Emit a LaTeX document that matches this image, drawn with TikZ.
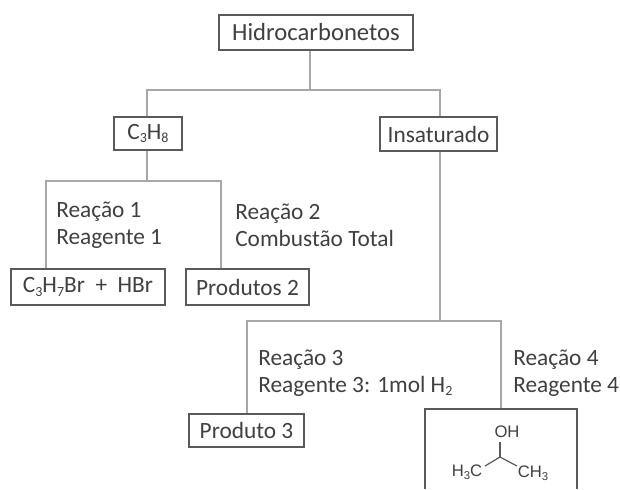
\documentclass[tikz,border=0pt]{standalone}
\usepackage{fontspec}
\setmainfont{Carlito}
\newfontfamily\chemfont{Liberation Sans}
\definecolor{boxc}{HTML}{5A5A5A}
\definecolor{linec}{HTML}{A8A8A8}
\definecolor{textc}{HTML}{404040}
\newcommand{\sbs}[1]{\raisebox{-0.3ex}{\fontsize{10.5}{12}\selectfont #1}}
\tikzset{
  boxn/.style={draw=boxc,line width=1.3pt,fill=white,text=textc,font=\fontsize{17.5}{20}\selectfont,inner sep=0pt,anchor=center},
  lab/.style={text=textc,font=\fontsize{17.5}{20.5}\selectfont,align=left,anchor=west,inner sep=0pt},
  conn/.style={draw=linec,line width=1.1pt},
  chem/.style={text=textc,font=\chemfont\fontsize{12.5}{14}\selectfont,inner sep=0pt},
  bond/.style={draw=boxc,line width=0.9pt}
}
\begin{document}
\begin{tikzpicture}[x=0.75pt,y=-0.75pt]
\useasboundingbox (0,0) rectangle (620,489);
\fill[white] (0,0) rectangle (620,489);
\coordinate (j1) at (310,90);
\coordinate (j2) at (147,181);
\coordinate (j3) at (440,321);
\coordinate (m) at (501,409);
\coordinate (mbl) at (425,489);
\coordinate (mtl) at (425,409);
\coordinate (mtr) at (577,409);
\coordinate (mbr) at (577,489);
\node[boxn,minimum width=145.5pt,minimum height=26pt] (hid) at (316,32.5) {\fontsize{18.5}{20}\selectfont Hidrocarbonetos};
\node[boxn,minimum width=51pt,minimum height=25pt] (c3) at (148,133.5) {C\sbs{3}H\sbs{8}};
\node[boxn,minimum width=87.5pt,minimum height=25pt] (ins) at (438.5,134) {Insaturado};
\node[boxn,minimum width=115.5pt,minimum height=27pt] (brp) at (88,287) {C\sbs{3}H\sbs{7}Br\ \ +\ \ HBr};
\node[boxn,minimum width=92pt,minimum height=27pt] (p2) at (247.5,287) {Produtos 2};
\node[boxn,minimum width=86pt,minimum height=25pt] (p3) at (246.5,430.5) {Produto 3};
\coordinate (h1) at (147,90);
\coordinate (h2) at (440,90);
\draw[conn] (hid.south -| j1) -- (j1);
\draw[conn] (c3.north -| h1) -- (h1) -- (h2) -- (ins.north -| h2);
\coordinate (k1) at (46,181);
\coordinate (k2) at (221,181);
\draw[conn] (c3.south -| j2) -- (j2);
\draw[conn] (brp.north -| k1) -- (k1) -- (k2) -- (p2.north -| k2);
\coordinate (l1) at (247,321);
\coordinate (l2) at (501,321);
\draw[conn] (ins.south -| j3) -- (j3);
\draw[conn] (p3.north -| l1) -- (l1) -- (l2) -- (m);
\draw[draw=boxc,line width=1.3pt] (mbl) -- (mtl) -- (mtr) -- (mbr);
\node[lab] (r1) at (56,225) {Reação 1\\Reagente 1};
\node[lab] (r2) at (235,225) {Reação 2\\Combustão Total};
\node[lab] (r3) at (258,373) {Reação 3\\Reagente 3: 1mol H\sbs{2}};
\node[lab] (r4) at (513,373) {Reação 4\\Reagente 4};
\node[chem] (oh) at (507,432) {OH};
\node[chem] (hc) at (467,472) {H\raisebox{-0.3ex}{\fontsize{8.5}{9}\selectfont 3}C};
\node[chem] (ch) at (533,473) {CH\raisebox{-0.3ex}{\fontsize{8.5}{9}\selectfont 3}};
\coordinate (cc) at (500,457);
\draw[bond] (500,442) -- (cc);
\draw[bond] (485,466) -- (cc) -- (517,466);
\end{tikzpicture}
\end{document}
